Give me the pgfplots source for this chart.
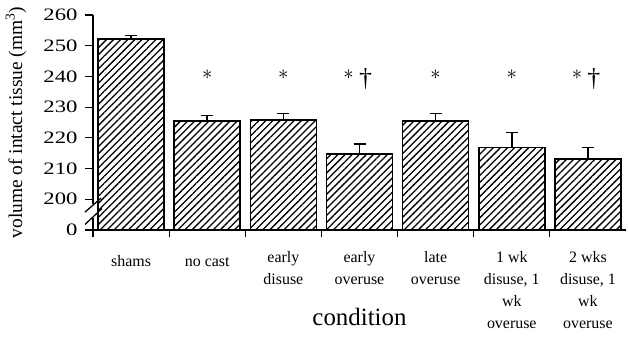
\documentclass[border=0pt]{standalone}
\usepackage{pgfplots}
\pgfplotsset{compat=1.18}
\usepackage{pgfplotstable}
\usepackage{fontspec}
\setmainfont{Liberation Serif}
\newfontfamily\tickfont[FakeStretch=1.3]{Liberation Serif}
\usetikzlibrary{patterns.meta}

\pgfplotstableread{
x v e
0 252.1 1.3
1 225.4 1.8
2 225.9 2.0
3 214.8 3.2
4 225.4 2.5
5 216.8 5.0
6 213.2 3.7
}\datatable

\begin{document}
\begin{tikzpicture}
\useasboundingbox (-93bp,-107bp) rectangle (536bp,230bp);
\begin{axis}[
  at={(0,0)}, anchor=south west,
  scale only axis,
  width=533bp, height=215bp,
  xmin=-0.5, xmax=6.5,
  ymin=0, ymax=70,
  axis x line*=bottom,
  axis y line*=left,
  y axis line style={draw=none},
  x axis line style={line width=1.5bp},
  tick align=outside,
  xtick={0,1,2,3,4,5,6},
  xticklabels={{shams},{no cast},{early\\disuse},{early\\overuse},{late\\overuse},{1 wk\\disuse, 1\\wk\\overuse},{2 wks\\disuse, 1\\wk\\overuse}},
  major x tick style={draw=none},
  minor xtick={-0.5,0.5,1.5,2.5,3.5,4.5,5.5},
  minor x tick style={line width=1.2bp, black},
  minor tick length=7bp,
  ytick={0,10,20,30,40,50,60,70},
  yticklabels={0,200,210,220,230,240,250,260},
  major tick length=8bp,
  y tick style={line width=1.2bp, black},
  xticklabel style={font=\fontsize{16}{22}\selectfont, align=center, anchor=north, yshift=-10bp, execute at begin node={\strut}},
  yticklabel style={font=\tickfont\fontsize{17.5}{18}\selectfont, anchor=east, xshift=-4bp},
  xlabel={condition},
  xlabel style={at={(axis description cs:0.5,-0.442)}, anchor=base, font=\fontsize{25}{25}\selectfont},
  ylabel={volume of intact tissue (mm\textsuperscript{3})},
  ylabel style={at={(axis description cs:-0.1445,0.5)}, anchor=center, font=\fontsize{19.5}{20}\selectfont},
  clip=false,
]
\addplot[
  ybar, bar width=66bp, draw=black, line width=1.6bp,
  pattern={Lines[angle=45,distance=5bp,line width=1.3bp]}, pattern color=black,
  error bars/.cd, y dir=plus, y explicit,
  error bar style={line width=1.5bp, black},
  error mark options={rotate=90, line width=1.5bp, black, mark size=6bp},
] table[x=x, y expr=\thisrow{v}-190, y error=e] {\datatable};

% broken y axis line
\draw[line width=1.5bp] (axis cs:-0.5,0) -- (axis cs:-0.5,3.9);
\draw[line width=1.5bp] (axis cs:-0.5,8.5) -- (axis cs:-0.5,70);
\draw[line width=1.3bp] ([xshift=-8bp,yshift=-7bp]axis cs:-0.5,8.1) -- ([xshift=8bp,yshift=7bp]axis cs:-0.5,8.1);
\draw[line width=1.3bp] ([xshift=-8bp,yshift=-8bp]axis cs:-0.5,4.4) -- ([xshift=9bp,yshift=8bp]axis cs:-0.5,4.4);

% significance markers
\pgfplotsinvokeforeach{1,2,4,5}{
  \node[font=\fontsize{21}{21}\selectfont] at (axis cs:#1,50.5) {$\ast$};
}
\pgfplotsinvokeforeach{3,6}{
  \node[font=\fontsize{21}{21}\selectfont] at ([xshift=-11bp]axis cs:#1,50.5) {$\ast$};
  \node[font=\fontsize{26}{26}\selectfont] at ([xshift=6bp,yshift=-4bp]axis cs:#1,50.5) {†};
}
\end{axis}
\end{tikzpicture}
\end{document}
